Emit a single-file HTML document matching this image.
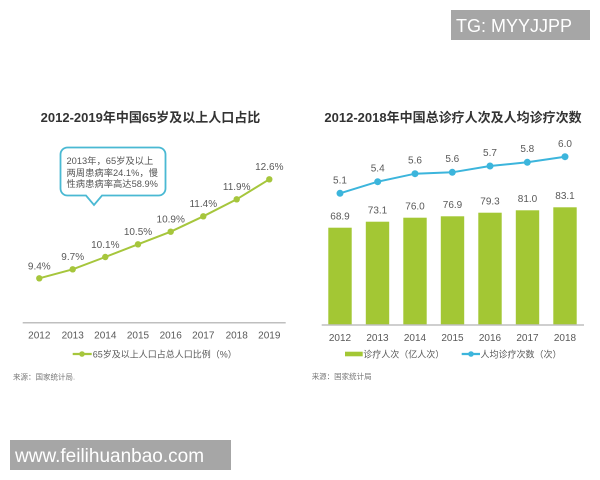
<!DOCTYPE html>
<html><head><meta charset="utf-8"><style>
html,body{margin:0;padding:0;background:#fff;}
svg{display:block;}
text{font-family:"Liberation Sans","Noto Sans CJK SC",sans-serif;}
</style></head><body>
<svg width="600" height="480" viewBox="0 0 600 480" xmlns="http://www.w3.org/2000/svg">
<rect width="600" height="480" fill="#fff"/>
<!-- TG watermark -->
<rect x="451" y="10" width="139" height="30" fill="#a6a6a6"/>
<text x="456" y="32" font-size="18" fill="#fff">TG: MYYJJPP</text>

<!-- Titles -->
<text x="150.5" y="122" font-size="13" font-weight="bold" fill="#333" text-anchor="middle">2012-2019年中国65岁及以上人口占比</text>
<text x="453" y="122" font-size="13" font-weight="bold" fill="#333" text-anchor="middle">2012-2018年中国总诊疗人次及人均诊疗次数</text>

<!-- Left chart -->
<path d="M60.5,154.5 a7,7 0 0 1 7,-7 H158.5 a7,7 0 0 1 7,7 V188.5 a7,7 0 0 1 -7,7 H102 L94,205 L86,195.5 H67.5 a7,7 0 0 1 -7,-7 Z" fill="#fff" stroke="#4ab9d3" stroke-width="1.8"/>
<g font-size="9.3" fill="#555">
<text x="66.5" y="164">2013年，65岁及以上</text>
<text x="66.5" y="176">两周患病率24.1%，慢</text>
<text x="66.5" y="187">性病患病率高达58.9%</text>
</g>
<polyline points="39.3,278.3 72.7,269.3 105.3,257 138,244.3 170.7,231.7 203.3,216.3 236.7,199.3 269.3,179.3" fill="none" stroke="#a6c63c" stroke-width="2"/>
<g fill="#a6c63c">
<circle cx="39.3" cy="278.3" r="3.2"/><circle cx="72.7" cy="269.3" r="3.2"/><circle cx="105.3" cy="257" r="3.2"/><circle cx="138" cy="244.3" r="3.2"/><circle cx="170.7" cy="231.7" r="3.2"/><circle cx="203.3" cy="216.3" r="3.2"/><circle cx="236.7" cy="199.3" r="3.2"/><circle cx="269.3" cy="179.3" r="3.2"/>
</g>
<g font-size="10" fill="#595959" text-anchor="middle">
<text x="39.3" y="269.5">9.4%</text>
<text x="72.7" y="260">9.7%</text>
<text x="105.3" y="248">10.1%</text>
<text x="138" y="235">10.5%</text>
<text x="170.7" y="222.5">10.9%</text>
<text x="203.3" y="207">11.4%</text>
<text x="236.7" y="190">11.9%</text>
<text x="269.3" y="170">12.6%</text>
</g>
<line x1="22.7" y1="322.7" x2="285.7" y2="322.7" stroke="#bfbfbf" stroke-width="1.5"/>
<g font-size="10" fill="#595959" text-anchor="middle">
<text x="39.3" y="338.5">2012</text><text x="72.7" y="338.5">2013</text><text x="105.3" y="338.5">2014</text><text x="138" y="338.5">2015</text><text x="170.7" y="338.5">2016</text><text x="203.3" y="338.5">2017</text><text x="236.7" y="338.5">2018</text><text x="269.3" y="338.5">2019</text>
</g>
<line x1="72.7" y1="354" x2="91.7" y2="354" stroke="#a6c63c" stroke-width="2.2"/>
<circle cx="82" cy="354" r="2.8" fill="#a6c63c"/>
<text x="92.7" y="357.3" font-size="9" fill="#595959">65岁及以上人口占总人口比例（%）</text>
<text x="13" y="379.5" font-size="7.5" fill="#777">来源：国家统计局.</text>

<!-- Right chart -->
<g fill="#a3c734">
<rect x="328.3" y="227.7" width="23.4" height="97.3"/>
<rect x="365.8" y="221.7" width="23.4" height="103.3"/>
<rect x="403.3" y="217.7" width="23.4" height="107.3"/>
<rect x="440.8" y="216.3" width="23.4" height="108.7"/>
<rect x="478.3" y="212.7" width="23.4" height="112.3"/>
<rect x="515.8" y="210.3" width="23.4" height="114.7"/>
<rect x="553.3" y="207.3" width="23.4" height="117.7"/>
</g>
<g font-size="10" fill="#595959" text-anchor="middle">
<text x="340" y="219.5">68.9</text>
<text x="377.5" y="213.5">73.1</text>
<text x="415" y="209.5">76.0</text>
<text x="452.5" y="208">76.9</text>
<text x="490" y="204.5">79.3</text>
<text x="527.5" y="202">81.0</text>
<text x="565" y="199">83.1</text>
</g>
<polyline points="340,193.3 377.7,181.7 415,173.7 452.3,172.3 490,166 527.3,162.3 565,156.7" fill="none" stroke="#3cb5dc" stroke-width="2"/>
<g fill="#3cb5dc">
<circle cx="340" cy="193.3" r="3.5"/><circle cx="377.7" cy="181.7" r="3.5"/><circle cx="415" cy="173.7" r="3.5"/><circle cx="452.3" cy="172.3" r="3.5"/><circle cx="490" cy="166" r="3.5"/><circle cx="527.3" cy="162.3" r="3.5"/><circle cx="565" cy="156.7" r="3.5"/>
</g>
<g font-size="10" fill="#595959" text-anchor="middle">
<text x="340" y="183.5">5.1</text>
<text x="377.7" y="171.5">5.4</text>
<text x="415" y="163.5">5.6</text>
<text x="452.3" y="162">5.6</text>
<text x="490" y="156">5.7</text>
<text x="527.3" y="152">5.8</text>
<text x="565" y="147">6.0</text>
</g>
<line x1="321.7" y1="325" x2="584" y2="325" stroke="#bfbfbf" stroke-width="1.5"/>
<g font-size="10" fill="#595959" text-anchor="middle">
<text x="340" y="341">2012</text><text x="377.5" y="341">2013</text><text x="415" y="341">2014</text><text x="452.5" y="341">2015</text><text x="490" y="341">2016</text><text x="527.5" y="341">2017</text><text x="565" y="341">2018</text>
</g>
<rect x="345" y="351.7" width="17.7" height="4.6" fill="#a3c734"/>
<text x="363.3" y="357.3" font-size="9" fill="#595959">诊疗人次（亿人次）</text>
<line x1="461.7" y1="354" x2="480" y2="354" stroke="#3cb5dc" stroke-width="2.2"/>
<circle cx="471" cy="354" r="2.8" fill="#3cb5dc"/>
<text x="480.5" y="357.3" font-size="9" fill="#595959">人均诊疗次数（次）</text>
<text x="311.7" y="379" font-size="7.5" fill="#777">来源：国家统计局</text>

<!-- bottom watermark -->
<rect x="10" y="440" width="221" height="30" fill="#a6a6a6"/>
<text x="15" y="462" font-size="19" fill="#fff">www.feilihuanbao.com</text>
</svg>
</body></html>
